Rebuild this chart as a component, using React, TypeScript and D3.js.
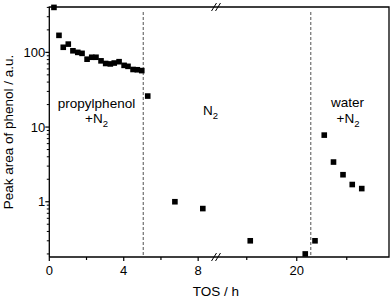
import React, { useEffect, useRef } from 'react';
import * as d3 from 'd3';

// propylphenol + N2 feed
const propylTimes = [0.25, 0.52, 0.75, 1.02, 1.27, 1.53, 1.76, 2.03, 2.28, 2.51, 2.78, 3.03, 3.28, 3.49, 3.75, 4.02, 4.23, 4.5, 4.73, 4.97];
const propylValues = [400, 169, 117, 129, 105, 100, 97, 81, 86, 86, 77, 71, 70, 72, 75, 67, 65, 59, 58.5, 57];
// N2 only
const n2Times = [5.29, 6.75, 8.25, 18.14, 20.34];
const n2Values = [26, 1.0, 0.81, 0.3, 0.2];
// water + N2
const waterTimes = [20.73, 21.1, 21.47, 21.85, 22.22, 22.6];
const waterValues = [0.3, 7.8, 3.4, 2.3, 1.7, 1.5];

const switchTimes = [5.05, 20.56];
const xMajorTicks = [0, 4, 8, 20];
const xMinorTicks = [2, 6, 18, 22];
const yMajorTicks = [1, 10, 100];

const W = 392;
const H = 299;
const FONT = '"Liberation Sans", Arial, Helvetica, sans-serif';

const App = () => {
  const svgRef = useRef<SVGSVGElement>(null);

  useEffect(() => {
    const svg = d3.select(svgRef.current);
    svg.selectAll('*').remove();

    const left = 49.3, right = 389, top = 7, bottom = 257;
    const breakX = 219;

    // broken x axis: two linear segments
    const x1 = d3.scaleLinear().domain([0, 9.12]).range([left, breakX]);
    const x2 = d3.scaleLinear().domain([16.89, 23.69]).range([breakX, right]);
    const x = (t: number) => (t < 12 ? x1(t) : x2(t));

    const y = d3.scaleLog().domain([0.182, 405]).range([bottom, top]);

    const g = svg.append('g').style('font-family', FONT);

    // dashed lines where the feed changes
    g.selectAll('.switch')
      .data(switchTimes)
      .enter()
      .append('line')
      .attr('x1', d => x(d))
      .attr('x2', d => x(d))
      .attr('y1', top + 5)
      .attr('y2', bottom)
      .attr('stroke', '#6e6e6e')
      .attr('stroke-width', 1.2)
      .attr('stroke-dasharray', '3,2');

    // frame
    g.append('path')
      .attr('d', `M${left},${bottom}V${top}H${right}V${bottom}H${left}`)
      .attr('fill', 'none')
      .attr('stroke', '#000')
      .attr('stroke-width', 1.3);

    // axis break marks
    [top, bottom].forEach(yy => {
      [breakX - 5, breakX - 1].forEach(bx => {
        g.append('line')
          .attr('x1', bx - 2.5)
          .attr('x2', bx + 2.5)
          .attr('y1', yy + 4)
          .attr('y2', yy - 4)
          .attr('stroke', '#000')
          .attr('stroke-width', 1);
      });
    });

    // x ticks
    g.selectAll('.xmaj')
      .data(xMajorTicks)
      .enter()
      .append('line')
      .attr('x1', d => x(d))
      .attr('x2', d => x(d))
      .attr('y1', bottom)
      .attr('y2', bottom + 4)
      .attr('stroke', '#000')
      .attr('stroke-width', 1.2);

    g.selectAll('.xmin')
      .data(xMinorTicks)
      .enter()
      .append('line')
      .attr('x1', d => x(d))
      .attr('x2', d => x(d))
      .attr('y1', bottom)
      .attr('y2', bottom + 3)
      .attr('stroke', '#000')
      .attr('stroke-width', 1.2);

    g.selectAll('.xlab')
      .data(xMajorTicks)
      .enter()
      .append('text')
      .attr('x', d => x(d))
      .attr('y', 275)
      .attr('text-anchor', 'middle')
      .style('font-size', '13px')
      .text(d => d);

    // y ticks (log)
    const yMinor: number[] = [];
    [0.1, 1, 10, 100].forEach(dec => {
      for (let k = 2; k <= 9; k++) {
        const v = dec * k;
        if (v >= y.domain()[0] && v <= y.domain()[1]) yMinor.push(v);
      }
    });

    g.selectAll('.ymin')
      .data(yMinor)
      .enter()
      .append('line')
      .attr('x1', left - 2.5)
      .attr('x2', left)
      .attr('y1', d => y(d))
      .attr('y2', d => y(d))
      .attr('stroke', '#000')
      .attr('stroke-width', 1);

    g.selectAll('.ymaj')
      .data(yMajorTicks)
      .enter()
      .append('line')
      .attr('x1', left - 4)
      .attr('x2', left)
      .attr('y1', d => y(d))
      .attr('y2', d => y(d))
      .attr('stroke', '#000')
      .attr('stroke-width', 1.2);

    g.selectAll('.ylab')
      .data(yMajorTicks)
      .enter()
      .append('text')
      .attr('x', left - 4)
      .attr('y', d => y(d) + 4.5)
      .attr('text-anchor', 'end')
      .style('font-size', '13px')
      .text(d => d);

    // axis titles
    g.append('text')
      .attr('x', 216)
      .attr('y', 296)
      .attr('text-anchor', 'middle')
      .style('font-size', '13.5px')
      .text('TOS / h');

    g.append('text')
      .attr('transform', `translate(13,${(top + bottom) / 2}) rotate(-90)`)
      .attr('text-anchor', 'middle')
      .style('font-size', '13.5px')
      .text('Peak area of phenol / a.u.');

    // data squares
    const pts = [
      ...propylTimes.map((t, i) => [t, propylValues[i]]),
      ...n2Times.map((t, i) => [t, n2Values[i]]),
      ...waterTimes.map((t, i) => [t, waterValues[i]]),
    ];
    const s = 5.6;
    g.selectAll('.dot')
      .data(pts)
      .enter()
      .append('rect')
      .attr('x', d => x(d[0]) - s / 2)
      .attr('y', d => y(d[1]) - s / 2)
      .attr('width', s)
      .attr('height', s)
      .attr('fill', '#000');

    // region labels
    const label = (cx: number, by: number, main: string, sub?: string, anchor = 'middle') => {
      const t = g.append('text')
        .attr('x', cx)
        .attr('y', by)
        .attr('text-anchor', anchor)
        .style('font-size', '13.5px');
      t.append('tspan').text(main);
      if (sub) {
        t.append('tspan')
          .attr('dy', 3.5)
          .style('font-size', '9.5px')
          .text(sub);
      }
    };
    label(96.5, 108, 'propylphenol');
    label(96.5, 123, '+N', '2');
    label(203, 115, 'N', '2', 'start');
    label(347.5, 107, 'water');
    label(348, 123, '+N', '2');
  }, []);

  return (
    <div style={{ position: 'absolute', left: 0, top: 0, background: '#fff' }}>
      <svg ref={svgRef} width={W} height={H} style={{ display: 'block' }}></svg>
    </div>
  );
};

export default App;
